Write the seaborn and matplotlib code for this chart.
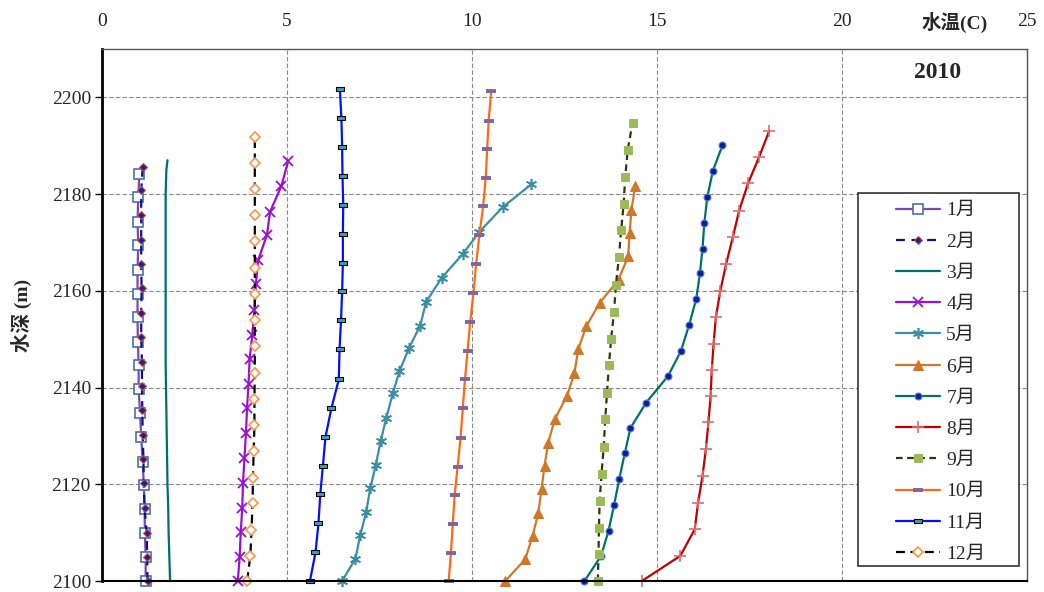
import numpy as np
import pandas as pd
import matplotlib
matplotlib.use('Agg')
import matplotlib.pyplot as plt
from matplotlib.patches import Rectangle
import seaborn as sns

# --- data (bottom -> top of each profile) ---
months = ['1月', '2月', '3月', '4月', '5月', '6月', '7月', '8月', '9月', '10月', '11月', '12月']

depth_01 = [2100, 2105, 2110, 2114.8, 2119.8, 2124.7, 2129.7, 2134.7, 2139.6, 2144.6, 2149.5, 2154.5, 2159.4, 2164.4, 2169.4, 2174.3, 2179.3, 2184.2]
temp_01 = [1.18, 1.18, 1.16, 1.15, 1.13, 1.10, 1.06, 1.03, 0.99, 0.99, 0.97, 0.96, 0.96, 0.96, 0.98, 0.96, 0.98, 1.01]

depth_02 = [2100, 2105, 2110, 2115, 2120.2, 2125.2, 2130.2, 2135.3, 2140.4, 2145.3, 2150.4, 2155.4, 2160.5, 2165.6, 2170.6, 2175.7, 2180.8, 2185.7]
temp_02 = [1.23, 1.22, 1.21, 1.15, 1.13, 1.12, 1.10, 1.09, 1.08, 1.08, 1.06, 1.06, 1.07, 1.06, 1.06, 1.06, 1.06, 1.10]

depth_03 = [2100, 2105, 2110, 2115, 2120, 2125, 2130, 2135, 2140, 2145, 2150, 2155, 2160, 2165, 2170, 2175, 2180, 2185, 2187]
temp_03 = [1.84, 1.82, 1.80, 1.79, 1.77, 1.76, 1.75, 1.74, 1.73, 1.72, 1.72, 1.72, 1.72, 1.72, 1.72, 1.72, 1.72, 1.74, 1.77]

depth_04 = [2100, 2104.9, 2110.1, 2115.0, 2120.2, 2125.4, 2130.5, 2135.7, 2140.8, 2145.9, 2150.8, 2156.1, 2161.5, 2166.3, 2171.6, 2176.3, 2181.7, 2186.8]
temp_04 = [3.67, 3.72, 3.75, 3.79, 3.81, 3.85, 3.89, 3.92, 3.96, 3.99, 4.06, 4.12, 4.16, 4.22, 4.46, 4.54, 4.85, 5.03]

depth_05 = [2100, 2104.6, 2109.5, 2114.2, 2119.2, 2124.0, 2128.9, 2133.6, 2138.8, 2143.4, 2148.2, 2152.8, 2157.7, 2162.7, 2167.6, 2172.2, 2177.3, 2182.0]
temp_05 = [6.49, 6.85, 6.98, 7.14, 7.25, 7.40, 7.53, 7.68, 7.86, 8.04, 8.30, 8.60, 8.76, 9.18, 9.75, 10.20, 10.83, 11.60]

depth_06 = [2100, 2104.5, 2109.4, 2114.0, 2119.0, 2123.8, 2128.6, 2133.5, 2138.3, 2143.0, 2147.9, 2152.7, 2157.5, 2162.3, 2167.1, 2172.0, 2176.8, 2181.6]
temp_06 = [10.90, 11.44, 11.64, 11.79, 11.88, 11.96, 12.06, 12.24, 12.57, 12.77, 12.87, 13.09, 13.45, 13.96, 14.22, 14.26, 14.31, 14.41]

depth_07 = [2100, 2105.2, 2110.4, 2115.7, 2121.1, 2126.4, 2131.6, 2136.9, 2142.4, 2147.6, 2153.0, 2158.3, 2163.6, 2168.7, 2174.1, 2179.4, 2184.8, 2190.1]
temp_07 = [13.04, 13.49, 13.69, 13.84, 13.98, 14.13, 14.28, 14.71, 15.30, 15.65, 15.87, 16.06, 16.16, 16.23, 16.28, 16.36, 16.51, 16.77]

depth_08 = [2100, 2105.2, 2110.7, 2116.2, 2121.7, 2127.2, 2132.8, 2138.3, 2143.7, 2149.1, 2154.5, 2160.0, 2165.6, 2171.1, 2176.6, 2182.2, 2187.7, 2193.0]
temp_08 = [14.59, 15.63, 16.02, 16.11, 16.23, 16.32, 16.39, 16.45, 16.48, 16.53, 16.59, 16.71, 16.87, 17.05, 17.22, 17.46, 17.76, 18.03]

depth_09 = [2100, 2105.6, 2111.0, 2116.6, 2122.1, 2127.7, 2133.4, 2138.9, 2144.6, 2150.1, 2155.7, 2161.3, 2166.9, 2172.5, 2178.0, 2183.5, 2189.2, 2194.8]
temp_09 = [13.40, 13.42, 13.43, 13.45, 13.50, 13.56, 13.60, 13.65, 13.70, 13.76, 13.84, 13.89, 13.97, 14.03, 14.10, 14.14, 14.21, 14.34]

depth_10 = [2100, 2105.8, 2111.8, 2117.7, 2123.6, 2129.6, 2135.7, 2141.7, 2147.6, 2153.5, 2159.6, 2165.5, 2171.5, 2177.5, 2183.3, 2189.3, 2195.2, 2201.3]
temp_10 = [9.37, 9.43, 9.48, 9.53, 9.61, 9.69, 9.75, 9.81, 9.88, 9.95, 10.04, 10.11, 10.20, 10.30, 10.37, 10.41, 10.45, 10.52]

depth_11 = [2100, 2105.9, 2111.9, 2118.0, 2123.8, 2129.8, 2135.7, 2141.7, 2147.9, 2153.9, 2159.9, 2165.8, 2171.8, 2177.7, 2183.7, 2189.7, 2195.7, 2201.7]
temp_11 = [5.62, 5.77, 5.85, 5.90, 5.97, 6.04, 6.20, 6.40, 6.42, 6.46, 6.49, 6.51, 6.51, 6.52, 6.50, 6.49, 6.47, 6.43]

depth_12 = [2100, 2105.2, 2110.5, 2116.1, 2121.4, 2126.9, 2132.2, 2137.7, 2143.1, 2148.6, 2153.9, 2159.4, 2164.8, 2170.2, 2175.6, 2181.1, 2186.5, 2191.9]
temp_12 = [3.92, 4.01, 4.04, 4.07, 4.08, 4.10, 4.12, 4.12, 4.13, 4.13, 4.13, 4.13, 4.13, 4.13, 4.13, 4.13, 4.13, 4.13]

x_ticks = [0, 5, 10, 15, 20, 25]
y_ticks = [2100, 2120, 2140, 2160, 2180, 2200]

depths = [depth_01, depth_02, depth_03, depth_04, depth_05, depth_06,
          depth_07, depth_08, depth_09, depth_10, depth_11, depth_12]
temps = [temp_01, temp_02, temp_03, temp_04, temp_05, temp_06,
         temp_07, temp_08, temp_09, temp_10, temp_11, temp_12]

frames = []
for m, d, t in zip(months, depths, temps):
    frames.append(pd.DataFrame({'month': m, 'depth': d, 'temp': t}))
df = pd.concat(frames, ignore_index=True)

# --- styles per month (Excel-like look) ---
rect = [(-1, -0.45), (1, -0.45), (1, 0.45), (-1, 0.45), (-1, -0.45)]
styles = {
    '1月': dict(color='#7b48b0', linestyle='-', marker='s', markersize=6.5, mfc='white', mec='#4a6fa5', mew=1.2),
    '2月': dict(color='#10108a', linestyle=(0, (4, 3)), marker='D', markersize=4, mfc='#20208f', mec='#c0504d', mew=0.8),
    '3月': dict(color='#006f6a', linestyle='-', marker=None),
    '4月': dict(color='#9a10d0', linestyle='-', marker='x', markersize=7, mec='#9a10d0', mew=1.3),
    '5月': dict(color='#3a8fa3', linestyle='-', marker=(6, 2, 0), markersize=8, mec='#3a8fa3', mew=1.2),
    '6月': dict(color='#d0782a', linestyle='-', marker='^', markersize=7.5, mfc='#d0782a', mec='#d0782a'),
    '7月': dict(color='#00706a', linestyle='-', marker='o', markersize=5, mfc='#0a1f9a', mec='#5a7fd0', mew=0.8),
    '8月': dict(color='#c00000', linestyle='-', marker='+', markersize=8, mec='#e06a6a', mew=1.2),
    '9月': dict(color='#33330f', linestyle=(0, (3, 2)), marker='s', markersize=6, mfc='#9bbb59', mec='#9bbb59'),
    '10月': dict(color='#ff6a10', linestyle='-', marker='_', markersize=7, mec='#8064a2', mew=2.8),
    '11月': dict(color='#0010ff', linestyle='-', marker=rect, markersize=6, mfc='#3aa0b8', mec='black', mew=0.8),
    '12月': dict(color='black', linestyle=(0, (4, 2.5)), marker='D', markersize=5.5, mfc='white', mec='#f79646', mew=1.2),
}

sns.set_theme(style='white')
plt.rcParams['font.family'] = ['Liberation Serif', 'Noto Sans CJK SC']
plt.rcParams['axes.unicode_minus'] = False

fig = plt.figure(figsize=(10.44, 5.92), dpi=100)
ax = fig.add_axes([102 / 1044, 1 - 581 / 592, (1027 - 102) / 1044, (581 - 49) / 592])

for m in months:
    sub = df[df['month'] == m]
    sns.lineplot(data=sub, x='temp', y='depth', sort=False, estimator=None,
                 linewidth=1.6, label=m, ax=ax, clip_on=False, zorder=3, **styles[m])

ax.set_xlim(0, 25)
ax.set_ylim(2100, 2210)
ax.set_xticks(x_ticks)
ax.set_yticks(y_ticks)
ax.xaxis.tick_top()
ax.tick_params(axis='x', top=False, bottom=False, labeltop=True, labelbottom=False,
               length=0, pad=14, labelsize=14, colors='#222222')
ax.tick_params(axis='y', left=True, length=5, width=1, direction='out',
               labelsize=14, color='black', pad=3)
ax.set_xlabel('')
ax.set_ylabel('水深 (m)', fontsize=14, fontweight='bold', labelpad=14)

ax.grid(True, color='#8a8a8a', linestyle=(0, (4, 2)), linewidth=0.8)
ax.set_axisbelow(True)

for side in ['top', 'right']:
    ax.spines[side].set_color('#555555')
    ax.spines[side].set_linewidth(1.0)
ax.spines['left'].set_color('black')
ax.spines['left'].set_linewidth(2.0)
ax.spines['bottom'].set_color('black')
ax.spines['bottom'].set_linewidth(1.5)
ax.spines['bottom'].set_zorder(4)

fig.text(955 / 1044, 1 - 22 / 592, '水温(C)', ha='center', va='center',
         fontsize=14, fontweight='bold')
fig.text(938 / 1044, 1 - 73 / 592, '2010', ha='center', va='center',
         fontsize=17, fontweight='bold')

# legend box drawn separately so the entries can sit centred inside it
box = Rectangle((858 / 1044, 1 - 566 / 592), 161 / 1044, (566 - 193) / 592,
                transform=fig.transFigure, facecolor='white', edgecolor='#333333',
                linewidth=1.2, zorder=4, clip_on=False)
ax.add_patch(box)

leg = ax.legend(loc='upper left', bbox_to_anchor=(886 / 1044, 1 - 192 / 592),
                bbox_transform=fig.transFigure, borderaxespad=0, frameon=False,
                fontsize=14, handlelength=2.3, labelspacing=0.70,
                borderpad=0.5, handletextpad=0.3)
leg.set_zorder(5)

fig.savefig('out.png', dpi=100)
